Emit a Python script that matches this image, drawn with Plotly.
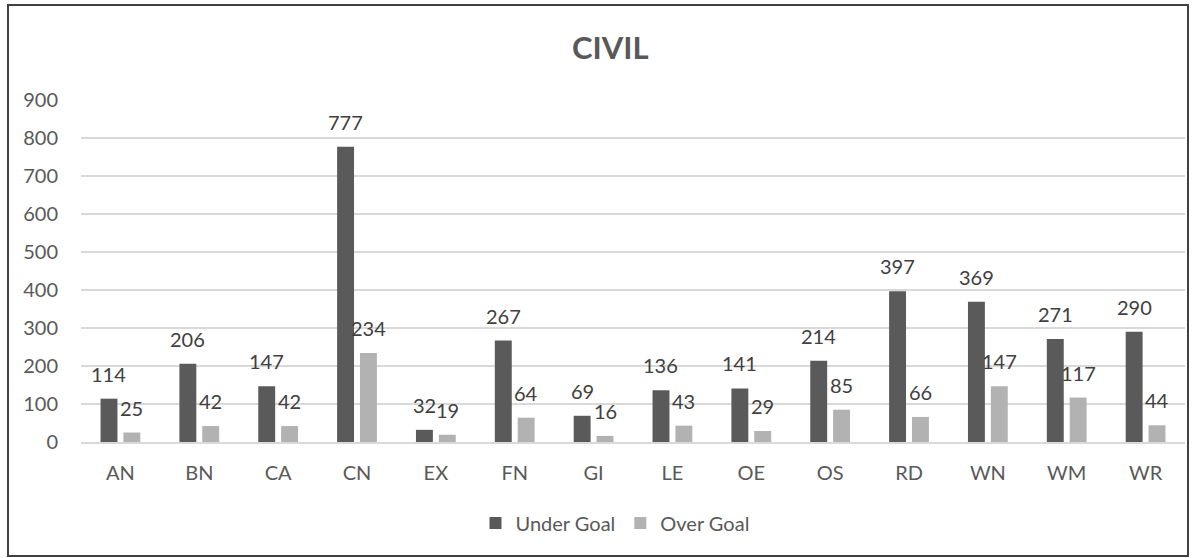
import plotly.graph_objects as go

categories = ["AN", "BN", "CA", "CN", "EX", "FN", "GI", "LE", "OE", "OS", "RD", "WN", "WM", "WR"]
under_goal = [114, 206, 147, 777, 32, 267, 69, 136, 141, 214, 397, 369, 271, 290]
over_goal = [25, 42, 42, 234, 19, 64, 16, 43, 29, 85, 66, 147, 117, 44]
y_ticks = [0, 100, 200, 300, 400, 500, 600, 700, 800, 900]

FONT = "Lato"
DARK = "#5a5a5a"
LIGHT = "#b2b2b2"
TXT = "#595959"

fig = go.Figure()
fig.add_trace(go.Bar(name="Under Goal", x=categories, y=under_goal, marker_color=DARK, marker_line_width=0))
fig.add_trace(go.Bar(name="Over Goal", x=categories, y=over_goal, marker_color=LIGHT, marker_line_width=0))

annotations = []
for series, shift in ((under_goal, -11.5), (over_goal, 11.5)):
    for c, v in zip(categories, series):
        annotations.append(dict(x=c, y=v, xref="x", yref="y", text=str(v), showarrow=False,
                                xshift=shift, yshift=25, yanchor="middle",
                                font=dict(family=FONT, size=20, color="#404040")))

annotations.append(dict(text="<b>CIVIL</b>", xref="paper", yref="paper", x=(610 - 81) / 1104,
                        y=1 + (100 - 47) / 342, xanchor="center", yanchor="middle", showarrow=False,
                        font=dict(family=FONT, size=31, color=TXT)))

fig.update_layout(
    width=1196, height=558,
    margin=dict(l=81, r=11, t=100, b=116),
    paper_bgcolor="white", plot_bgcolor="white",
    barmode="group", bargap=0.42, bargroupgap=0.26,
    annotations=annotations,
    showlegend=True,
    legend=dict(orientation="h", x=(615 - 81) / 1104, xanchor="center", y=(442 - 523) / 342, yanchor="middle",
                font=dict(family=FONT, size=20, color=TXT), itemsizing="constant", traceorder="normal"),
    font=dict(family=FONT, color=TXT),
    shapes=[dict(type="rect", xref="paper", yref="paper",
                 x0=(8 - 81) / 1104, x1=(1188 - 81) / 1104,
                 y0=(442 - 556) / 342, y1=1 + (100 - 5) / 342,
                 line=dict(color="#404040", width=2), fillcolor="rgba(0,0,0,0)", layer="below")],
)
fig.update_yaxes(range=[0, 900], tickvals=y_ticks, showgrid=True, gridcolor="#d9d9d9", gridwidth=1.5,
                 zeroline=False, showline=False, tickfont=dict(family=FONT, size=20, color=TXT),
                 ticklabelstandoff=22)
fig.update_xaxes(showgrid=False, showline=True, linecolor="#d9d9d9", linewidth=1.5,
                 tickfont=dict(family=FONT, size=20, color=TXT), ticklabelstandoff=12)

fig.write_html("out.html", config={"displayModeBar": False},
               post_script="document.body.style.margin='0px';")
